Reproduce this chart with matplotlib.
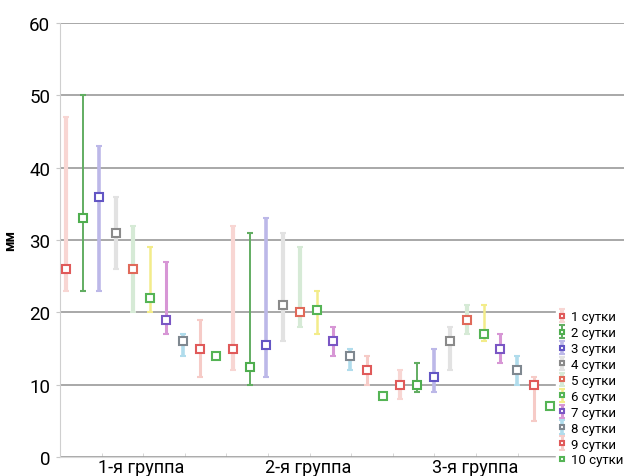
import matplotlib
matplotlib.use('Agg')
import matplotlib.pyplot as plt
from matplotlib.ticker import MultipleLocator
import numpy as np

plt.rcParams['font.family'] = ['Roboto', 'DejaVu Sans']

groups = ['1-я группа', '2-я группа', '3-я группа']
days = ['1 сутки', '2 сутки', '3 сутки', '4 сутки', '5 сутки',
        '6 сутки', '7 сутки', '8 сутки', '9 сутки', '10 сутки']

# mean / min / max per day, one row per group
mean_vals = [
    [26, 33, 36, 31, 26, 22, 19, 16, 15, 14],
    [15, 12.5, 15.5, 21, 20, 20.3, 16, 14, 12, 8.5],
    [10, 10, 11, 16, 19, 17, 15, 12, 10, 7],
]
low_vals = [
    [23, 23, 23, 26, 20, 20, 17, 14, 11, 14],
    [12, 10, 11, 16, 18, 17, 14, 12, 10, 8.5],
    [8, 9, 9, 12, 17, 16, 13, 10, 5, 7],
]
high_vals = [
    [47, 50, 43, 36, 32, 29, 27, 17, 19, 14],
    [32, 31, 33, 31, 29, 23, 18, 15, 14, 8.5],
    [12, 13, 15, 18, 21, 21, 17, 14, 11, 7],
]

marker_colors = ['#e05a5a', '#4fae4f', '#6356c4', '#8a8a8a', '#e06a5a',
                 '#55b455', '#7a56c4', '#7f8890', '#e05a5a', '#55b455']
bar_colors = ['#f8d6d3', '#62ad62', '#bcb8e8', '#e2e2e2', '#d6ead6',
              '#f3ec8a', '#d796d5', '#b0dcec', '#f6cbc7', '#ffffff']
bar_widths = [3, 1.4, 2.6, 3, 3, 1.8, 2.2, 2.6, 2.2, 0]

fig = plt.figure(figsize=(6.24, 4.77), dpi=100)
ax = fig.add_axes([60 / 624, 1 - 458 / 477, 1 - 60 / 624, (458 - 24) / 477])

n_days = len(days)
mean_arr = np.array(mean_vals)
low_arr = np.array(low_vals)
high_arr = np.array(high_vals)

handles = []
for d in range(n_days):
    xs = np.arange(len(groups)) * n_days + d
    ys = mean_arr[:, d]
    yerr = [ys - low_arr[:, d], high_arr[:, d] - ys]
    h = ax.errorbar(xs, ys, yerr=yerr, fmt='s', ms=5.5, mew=1.5,
                    mfc='white', mec=marker_colors[d],
                    ecolor=bar_colors[d], elinewidth=bar_widths[d],
                    capsize=2, capthick=1, label=days[d], zorder=3)
    handles.append(h)

ax.set_ylim(0, 60)
ax.set_xlim(-0.36, 33.4)
ax.yaxis.set_major_locator(MultipleLocator(10))
ax.yaxis.grid(True, color='#9a9a9a', lw=1.2)
ax.set_axisbelow(True)

# group labels under the axis, small ticks every 2.5 categories
ax.set_xticks([g * n_days + (n_days - 1) / 2 for g in range(len(groups))])
ax.set_xticklabels(groups, fontsize=13)
ax.tick_params(axis='x', length=0, pad=1)
ax.set_xticks(np.arange(-0.36, 33.4, 2.49), minor=True)
ax.tick_params(axis='x', which='minor', length=3, color='#d0d0d0', direction='in')
ax.tick_params(axis='y', length=3, color='#c8c8c8', labelsize=13.5, pad=4)

for s in ['top', 'right']:
    ax.spines[s].set_visible(False)
ax.spines['left'].set_color('#cfcfcf')
ax.spines['bottom'].set_color('#d8d8d8')

ax.set_ylabel('мм', fontsize=10, fontweight='bold')
ax.yaxis.set_label_coords(-0.076, 0.5)

leg = ax.legend(handles=handles, loc='upper left',
                bbox_to_anchor=(556 / 624, 1 - 310 / 477),
                bbox_transform=fig.transFigure,
                frameon=True, fancybox=False, edgecolor='white',
                facecolor='white', framealpha=1, fontsize=9.5,
                handlelength=0.7, handletextpad=0.3, labelspacing=0.22,
                borderpad=0.1, borderaxespad=0, markerscale=0.6)
leg.set_zorder(5)

fig.savefig('out.png', dpi=100)
